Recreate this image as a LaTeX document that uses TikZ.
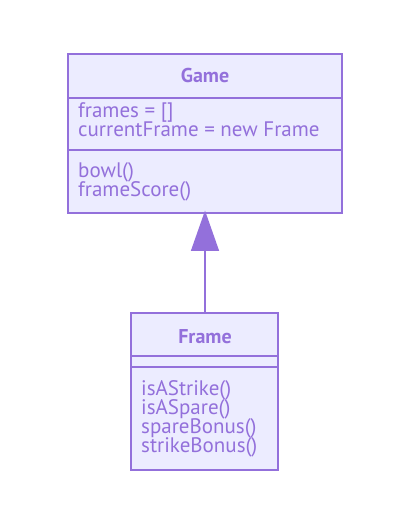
\documentclass[tikz,border=0pt]{standalone}
\usepackage{fontspec}
\setmainfont{PT Sans}
\definecolor{mline}{HTML}{9370DB}
\definecolor{mfill}{HTML}{ECECFF}
\newcommand\umltxtfont{\fontsize{21}{19}\selectfont\setlength{\lineskiplimit}{-20pt}}
\begin{document}
\begin{tikzpicture}[x=1pt,y=-1pt,
  box/.style={draw=mline,fill=mfill,line width=1.6pt},
  sep/.style={draw=mline,line width=1.6pt},
  txt/.style={text=mline,font=\umltxtfont,align=left,anchor=base west,inner sep=0pt},
  ttl/.style={text=mline,font=\fontsize{20}{24}\selectfont\bfseries,anchor=base,inner sep=0pt}]
\useasboundingbox (0,0) rectangle (410,526);
\fill[white] (0,0) rectangle (410,526);
% Game
\path[box] (68,54) rectangle (342,213);
\coordinate (gametop) at (205,213);
\draw[sep] (68,98) -- (342,98);
\draw[sep] (68,150) -- (342,150);
\node[ttl] (gtitle) at (205,83) {Game};
\node[txt] (gattr) at (78,137) {frames = []\\currentFrame = new Frame};
\node[txt] (gmeth) at (78,197) {bowl()\\frameScore()};
% Frame
\path[box] (131,313) rectangle (278,470);
\coordinate (frametop) at (205,313);
\draw[sep] (131,356) -- (278,356);
\draw[sep] (131,367) -- (278,367);
\node[ttl] (ftitle) at (205,343) {Frame};
\node[txt] (fmeth) at (141,452) {isAStrike()\\isASpare()\\spareBonus()\\strikeBonus()};
% inheritance
\coordinate (tb) at (205,250);
\draw[sep] (frametop) -- (tb);
\fill[mline,draw=mline,line width=1.6pt,line join=miter] (gametop) -- (218,250) -- (192,250) -- cycle;
\end{tikzpicture}
\end{document}
